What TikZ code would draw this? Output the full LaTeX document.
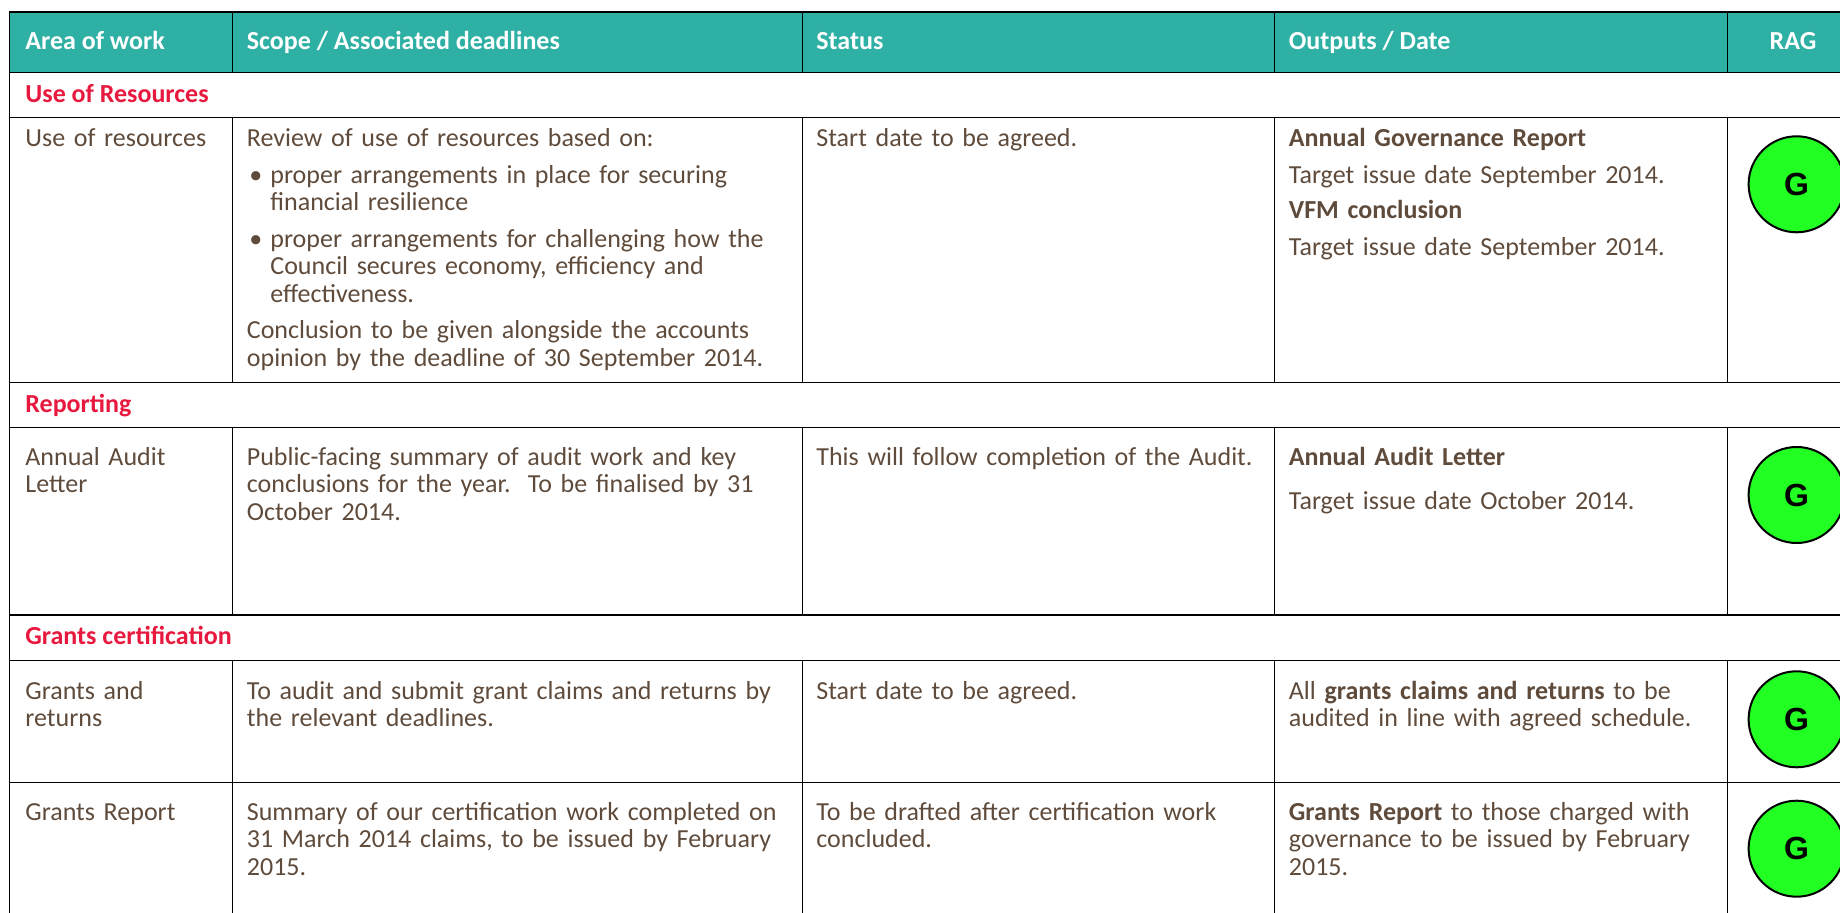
\documentclass[tikz,border=0pt]{standalone}
\usepackage{fontspec}
\setmainfont{Carlito}
\newfontfamily\ragfont{Liberation Sans}
\definecolor{headteal}{HTML}{2FB0A4}
\definecolor{secred}{HTML}{E8193F}
\definecolor{bodybrown}{HTML}{5F4B3B}
\definecolor{raggreen}{HTML}{22FF22}
\newcommand{\tablefont}{\fontsize{13pt}{13.75pt}\selectfont}
\newcommand{\bul}{\hspace*{1.25pt}\makebox[10.5pt][l]{\textbullet}}
\newcommand{\ind}{\hspace*{11.75pt}}
\tikzset{
  cell/.style={anchor=base west, inner sep=0pt, text width=#1, align=left,
    font=\tablefont, text=bodybrown},
  cell/.default=280pt,
  headcell/.style={anchor=base west, inner sep=0pt, font=\tablefont\bfseries, text=white},
  section/.style={anchor=base west, inner sep=0pt, font=\tablefont\bfseries, text=secred},
  ragdot/.style={circle, draw=black, line width=1pt, fill=raggreen, minimum size=48pt,
    inner sep=0pt, font=\ragfont\fontsize{16pt}{16pt}\selectfont\bfseries},
  rule/.style={line width=0.7pt}
}
\begin{document}
\begin{tikzpicture}[x=0.5pt,y=-0.5pt]
  \useasboundingbox (0,0) rectangle (1840,913);
  \clip (0,0) rectangle (1840,913);
  % header band and grid
  \fill[headteal] (9.4,12) rectangle (1840,72.3);
  \foreach \y in {12,72.3,117.3,382.3,427.3,615,660.3,782.3}
    \draw[rule] (9.4,\y) -- (1840,\y);
  \draw[rule] (9.4,12) -- (9.4,913);
  \foreach \x in {232.4,802.7,1274.4,1727.4}
    \foreach \ya/\yb in {12/72.3,117.3/382.3,427.3/615,660.3/913}
      \draw[rule] (\x,\ya) -- (\x,\yb);

  % header
  \node[headcell] (hArea) at (25,50) {Area of work};
  \node[headcell] (hScope) at (246.5,50) {Scope / Associated deadlines};
  \node[headcell] (hStatus) at (816,50) {Status};
  \node[headcell] (hOutputs) at (1288.5,50) {Outputs / Date};
  \node[headcell, anchor=base] (hRag) at (1793,50) {RAG};

  % sections
  \node[section] (sRes) at (25,102.5) {Use of Resources};
  \node[section] (sRep) at (25,412.3) {Reporting};
  \node[section] (sGra) at (25,645) {Grants certification};

  % use of resources
  \node[cell=100pt] (area1) at (25,147) {Use of resources};
  \node[cell] (scope1) at (246.5,147) {Review of use of resources based on:\\[4.5pt]
    \bul proper arrangements in place for securing\\
    \ind financial resilience\\[4.5pt]
    \bul proper arrangements for challenging how the\\
    \ind Council secures economy, efficiency and\\
    \ind effectiveness.\\[4.5pt]
    Conclusion to be given alongside the accounts\\
    opinion by the deadline of 30 September 2014.};
  \node[cell=225pt] (status1) at (816,147) {Start date to be agreed.};
  \node[cell=225pt] (out1) at (1288.5,147) {\textbf{Annual Governance Report}\\[4.5pt]
    Target issue date September 2014.\\[4pt]
    \textbf{VFM conclusion}\\[4.5pt]
    Target issue date September 2014.};
  \node[ragdot] (rag1) at (1796.6,184.3) {G};

  % reporting
  \node[cell=100pt] (area2) at (25,465.5) {Annual Audit\\Letter};
  \node[cell] (scope2) at (246.5,465.5) {Public-facing summary of audit work and key\\
    conclusions for the year.\ \ To be finalised by 31\\
    October 2014.};
  \node[cell=225pt] (status2) at (816,465.5) {This will follow completion of the Audit.};
  \node[cell=225pt] (out2) at (1288.5,465.5) {\textbf{Annual Audit Letter}\\[8.5pt]
    Target issue date October 2014.};
  \node[ragdot] (rag2) at (1796.6,495) {G};

  % grants
  \node[cell=100pt] (area3) at (25,699.3) {Grants and\\returns};
  \node[cell] (scope3) at (246.5,699.3) {To audit and submit grant claims and returns by\\
    the relevant deadlines.};
  \node[cell=225pt] (status3) at (816,699.3) {Start date to be agreed.};
  \node[cell=225pt] (out3) at (1288.5,699.3) {All \textbf{grants claims and returns} to be\\
    audited in line with agreed schedule.};
  \node[ragdot] (rag3) at (1796.6,719.3) {G};

  \node[cell=100pt] (area4) at (25,820) {Grants Report};
  \node[cell] (scope4) at (246.5,820) {Summary of our certification work completed on\\
    31 March 2014 claims, to be issued by February\\
    2015.};
  \node[cell=225pt] (status4) at (816,820) {To be drafted after certification work\\
    concluded.};
  \node[cell=225pt] (out4) at (1288.5,820) {\textbf{Grants Report} to those charged with\\
    governance to be issued by February\\
    2015.};
  \node[ragdot] (rag4) at (1796.6,848.7) {G};
\end{tikzpicture}
\end{document}
